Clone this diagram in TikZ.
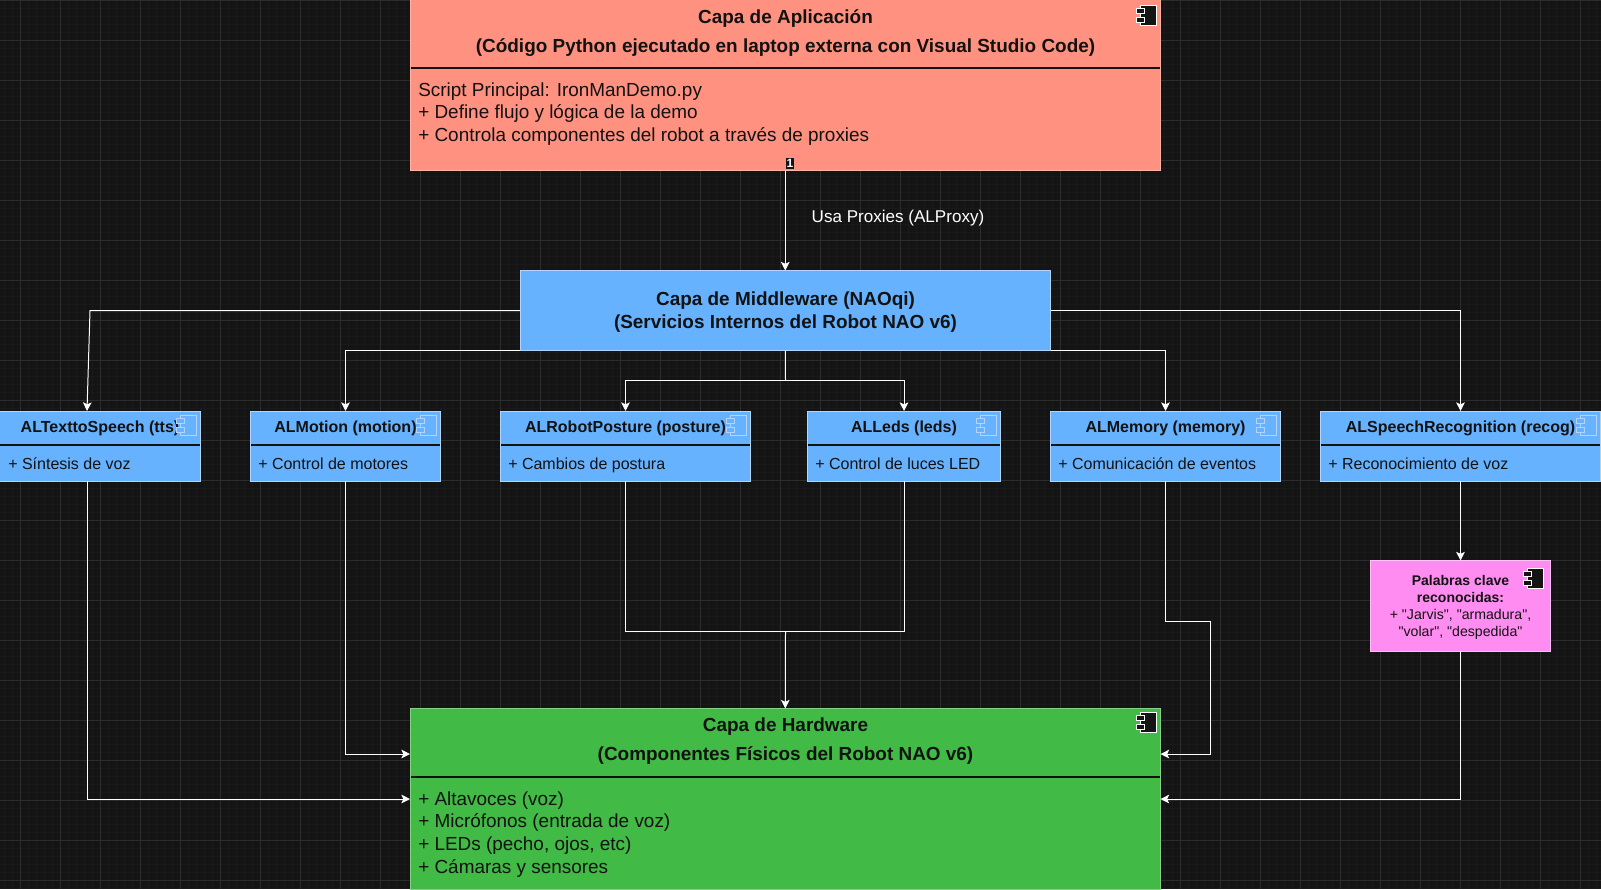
\documentclass[tikz,border=0pt]{standalone}
\usepackage{fontspec}
\setmainfont{Liberation Sans}
\newfontfamily\plainfont{Liberation Sans}
\usetikzlibrary{arrows.meta}
\definecolor{bg}{HTML}{141414}
\definecolor{gmaj}{HTML}{2C2C2C}
\definecolor{gmin}{HTML}{191919}
\definecolor{appfill}{HTML}{FF9180}
\definecolor{appline}{HTML}{FFB3A6}
\definecolor{blfill}{HTML}{66B2FF}
\definecolor{blline}{HTML}{B3D4FF}
\definecolor{grfill}{HTML}{42BA46}
\definecolor{grline}{HTML}{85D088}
\definecolor{pkfill}{HTML}{FF8CF0}
\definecolor{pkline}{HTML}{FFC0F5}
\definecolor{ink}{HTML}{121212}
\newcommand\bx[6]{\node[#2,anchor=north west,minimum width={(#5-#3)*0.75pt},minimum height={(#6-#4)*0.75pt}] (#1) at (#3,#4) {};}
% component icon: #1 style, #2 x, #3 y
\newcommand\compicon[3]{%
 \draw[#1] (#2+4,#3) rectangle (#2+20,#3+20);
 \draw[#1] (#2,#3+3) rectangle (#2+8,#3+8);
 \draw[#1] (#2,#3+12) rectangle (#2+8,#3+17);}
\tikzset{
 box/.style={draw,inner sep=0pt,outer sep=0pt,line width=0.75pt},
 appbox/.style={box,fill=appfill,draw=appline},
 blbox/.style={box,fill=blfill,draw=blline},
 grbox/.style={box,fill=grfill,draw=grline},
 pkbox/.style={box,fill=pkfill,draw=pkline},
 sep/.style={draw=ink,line width=1.5pt},
 darkicon/.style={fill=bg,draw=white,line width=0.75pt},
 lighticon/.style={fill=blfill,draw=blline,line width=0.75pt},
 link/.style={draw=white,line width=0.75pt,line join=miter},
 arr/.style={link,-{Stealth[length=6.5pt,width=6.5pt,inset=1.5pt]}},
 txt/.style={inner sep=0pt,text=ink},
 bigt/.style={txt,anchor=base,font=\bfseries\fontsize{14.2pt}{17pt}\selectfont},
 bigb/.style={txt,anchor=base west,font=\fontsize{14.2pt}{17pt}\selectfont},
 smt/.style={txt,anchor=base,font=\bfseries\fontsize{12pt}{14pt}\selectfont},
 smb/.style={txt,anchor=base west,font=\fontsize{12pt}{14pt}\selectfont},
 pkt/.style={txt,anchor=base,font=\bfseries\fontsize{10.5pt}{12pt}\selectfont},
 pkb/.style={txt,anchor=base,font=\plainfont\fontsize{10.6pt}{12pt}\selectfont},
}
\begin{document}
\begin{tikzpicture}[x=0.75pt,y=-0.75pt]
\clip (0,0) rectangle (1601,889);
\fill[bg] (0,0) rectangle (1601,889);
\foreach \i in {0,...,200} {\draw[gmin,line width=0.75pt] (4+8*\i,0) -- (4+8*\i,889);}
\foreach \i in {0,...,111} {\draw[gmin,line width=0.75pt] (0,8*\i) -- (1601,8*\i);}
\foreach \i in {0,...,40} {\draw[gmaj,line width=0.75pt] (20+40*\i,0) -- (20+40*\i,889);}
\foreach \i in {0,...,22} {\draw[gmaj,line width=0.75pt] (0,40*\i) -- (1601,40*\i);}

% boxes
\bx{app}{appbox}{410}{-1}{1160.5}{170.5}
\bx{mw}{blbox}{520}{270.5}{1050.5}{350.5}
\bx{tts}{blbox}{-1}{411}{200.5}{481}
\bx{mot}{blbox}{250.5}{411}{440.5}{481}
\bx{pos}{blbox}{500.5}{411}{750.5}{481}
\bx{led}{blbox}{807.5}{411}{1000.5}{481}
\bx{mem}{blbox}{1050.5}{411}{1280.5}{481}
\bx{rec}{blbox}{1320.5}{411}{1600.5}{481}
\bx{pk}{pkbox}{1370.5}{560.5}{1550.5}{651}
\bx{hw}{grbox}{410}{708.5}{1160.5}{889}

% separators
\draw[sep] (410.5,68) -- (1160,68);
\draw[sep] (410.5,776.5) -- (1160,776.5);
\foreach \a/\b in {0/200,251/440,501/750,808/1000,1051/1280,1321/1600} {\draw[sep] (\a,444.5) -- (\b,444.5);}

% free connector ends
\coordinate (ttsin) at (87,411);
\coordinate (ttsout) at (87,481);
\coordinate (hwl1) at (410,754);
\coordinate (hwl2) at (410,799);
\coordinate (hwr1) at (1160.5,754);
\coordinate (hwr2) at (1160.5,799);
\coordinate (j1) at (785.5,380.5);
\coordinate (j2) at (785.5,631);

% connectors
\draw[arr] (app.south) -- (mw.north);
\draw[arr] (mw.west) -- (90,310.5) -- (ttsin);
\draw[arr] (mw.south west) -- (mot.north |- mw.south) -- (mot.north);
\draw[link] (mw.south) -- (j1);
\draw[arr] (j1) -- (j1 -| pos.north) -- (pos.north);
\draw[arr] (j1) -- (j1 -| led.north) -- (led.north);
\draw[arr] (mw.south east) -- (mem.north |- mw.south) -- (mem.north);
\draw[arr] (mw.east) -- (rec.north |- mw.east) -- (rec.north);
\draw[arr] (rec.south) -- (pk.north);
\draw[arr] (pk.south) -- (pk.south |- hwr2) -- (hwr2);
\draw[arr] (ttsout) -- (ttsout |- hwl2) -- (hwl2);
\draw[arr] (mot.south) -- (mot.south |- hwl1) -- (hwl1);
\draw[link] (pos.south) -- (pos.south |- j2) -- (j2);
\draw[link] (led.south) -- (led.south |- j2) -- (j2);
\draw[arr] (j2) -- (hw.north);
\draw[arr] (mem.south) -- (mem.south |- 0,621) -- (1210.5,621) -- (1210.5,754) -- (hwr1);

% text: application
\node[bigt] (t1) at (785.5,23) {Capa de Aplicación};
\node[bigt] (t2) at (785.5,52) {(Código Python ejecutado en laptop externa con Visual Studio Code)};
\node[bigb] (t3) at (418,96) {Script Principal: IronManDemo.py};
\node[bigb] (t4) at (418,118.5) {+ Define flujo y lógica de la demo};
\node[bigb] (t5) at (418,141) {+ Controla componentes del robot a través de proxies};
\node[fill=bg,text=white,inner sep=0.8pt,font=\bfseries\fontsize{9pt}{10pt}\selectfont] (one) at (790,163.5) {1};
\node[anchor=base,inner sep=0pt,text=white,font=\fontsize{12.8pt}{14pt}\selectfont] (lab) at (898,222.5) {Usa Proxies (ALProxy)};

% middleware
\node[bigt] (m1) at (785.5,305.5) {Capa de Middleware (NAOqi)};
\node[bigt] (m2) at (785.5,328.5) {(Servicios Internos del Robot NAO v6)};

% services
\node[smt] (a1) at (100,432) {ALTexttoSpeech (tts)};
\node[smb] (a2) at (8,469) {+ Síntesis de voz};
\node[smt] (b1) at (345.5,432) {ALMotion (motion)};
\node[smb] (b2) at (258,469) {+ Control de motores};
\node[smt] (c1) at (625.5,432) {ALRobotPosture (posture)};
\node[smb] (c2) at (508,469) {+ Cambios de postura};
\node[smt] (d1) at (904,432) {ALLeds (leds)};
\node[smb] (d2) at (815,469) {+ Control de luces LED};
\node[smt] (e1) at (1165.5,432) {ALMemory (memory)};
\node[smb] (e2) at (1058,469) {+ Comunicación de eventos};
\node[smt] (f1) at (1460.5,432) {ALSpeechRecognition (recog)};
\node[smb] (f2) at (1328,469) {+ Reconocimiento de voz};

% keywords
\node[pkt] (g1) at (1460.5,585.5) {Palabras clave};
\node[pkt] (g2) at (1460.5,602.5) {reconocidas:};
\node[pkb] (g3) at (1460.5,619.5) {+ "Jarvis", "armadura",};
\node[pkb] (g4) at (1460.5,636) {"volar", "despedida"};

% hardware
\node[bigt] (h1) at (785.5,731.5) {Capa de Hardware};
\node[bigt] (h2) at (785.5,760.5) {(Componentes Físicos del Robot NAO v6)};
\node[bigb] (h3) at (418,805) {+ Altavoces (voz)};
\node[bigb] (h4) at (418,827.5) {+ Micrófonos (entrada de voz)};
\node[bigb] (h5) at (418,850) {+ LEDs (pecho, ojos, etc)};
\node[bigb] (h6) at (418,873) {+ Cámaras y sensores};

% icons
\compicon{darkicon}{1136.5}{5}
\compicon{darkicon}{1136.5}{712}
\compicon{darkicon}{1523.5}{568}
\compicon{lighticon}{176.5}{415}
\compicon{lighticon}{416.5}{415}
\compicon{lighticon}{726.5}{415}
\compicon{lighticon}{976.5}{415}
\compicon{lighticon}{1256.5}{415}
\compicon{lighticon}{1576.5}{415}
\end{tikzpicture}
\end{document}
